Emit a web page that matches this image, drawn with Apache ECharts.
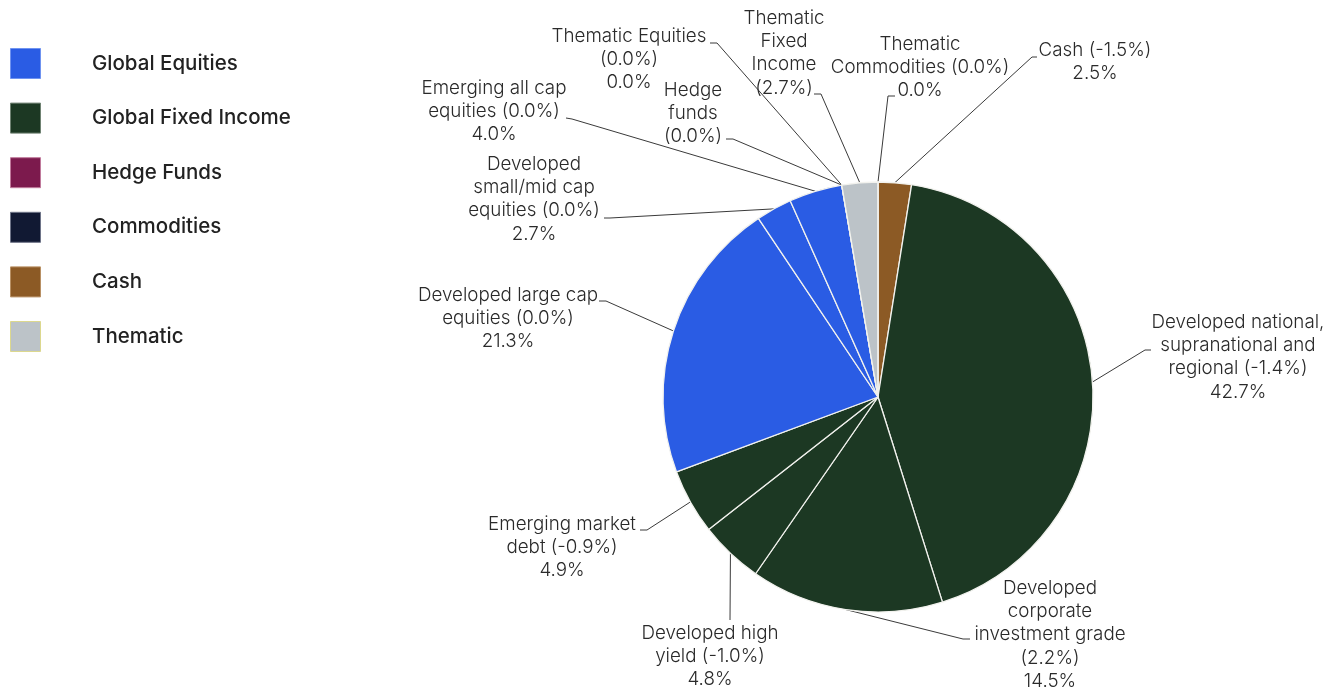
<!DOCTYPE html>
<html>
<head>
<meta charset="utf-8">
<title>Portfolio allocation</title>
<script src="https://cdn.jsdelivr.net/npm/echarts@6/dist/echarts.min.js"></script>
<style>
  html, body { margin: 0; padding: 0; background: #ffffff; }
  #chart { width: 1335px; height: 690px; }
</style>
</head>
<body>
<div id="chart"></div>
<script>
// ---- data ----
const groups = ['Global Equities', 'Global Fixed Income', 'Hedge Funds', 'Commodities', 'Cash', 'Thematic'];

const sliceNames = [
  'Cash',
  'Developed national, supranational and regional',
  'Developed corporate investment grade',
  'Developed high yield',
  'Emerging market debt',
  'Developed large cap equities',
  'Developed small/mid cap equities',
  'Emerging all cap equities',
  'Hedge funds',
  'Thematic Equities',
  'Thematic Fixed Income',
  'Thematic Commodities'
];
const sliceGroups = [
  'Cash',
  'Global Fixed Income', 'Global Fixed Income', 'Global Fixed Income', 'Global Fixed Income',
  'Global Equities', 'Global Equities', 'Global Equities',
  'Hedge Funds',
  'Thematic', 'Thematic', 'Thematic'
];
// portfolio weight, %
const weights = [2.5, 42.7, 14.5, 4.8, 4.9, 21.3, 2.7, 4.0, 0.0, 0.0, 2.7, 0.0];
// change in weight, percentage points
const changes = [-1.5, -1.4, 2.2, -1.0, -0.9, 0.0, 0.0, 0.0, 0.0, 0.0, 2.7, 0.0];

// ---- styles ----
const groupColors = {
  'Global Equities':     { fill: '#2a5ce4', edge: '#6f93f0' },
  'Global Fixed Income': { fill: '#1c3823', edge: '#6f8272' },
  'Hedge Funds':         { fill: '#7c1a4d', edge: '#c07a9c' },
  'Commodities':         { fill: '#111933', edge: '#6e7488' },
  'Cash':                { fill: '#8c5a25', edge: '#b89064' },
  'Thematic':            { fill: '#bcc3c8', edge: '#dcd88e' }
};

const FONT = 'Inter, "Noto Sans", sans-serif';
const CENTER = [878, 397];
const RADIUS = 215;
const LINE_H = 23.3;

// label placement: centre x, first line centre y, words per line,
// line elbow / end points, optional start angle on the rim
const labelSpots = {
  'Cash': { cx: 1095, y0: 50, wrap: [2], elbow: [1032, 57], end: [1037, 57] },
  'Developed national, supranational and regional': { cx: 1238, y0: 322, wrap: [2, 2, 2], rimAngle: 4, elbow: [1145, 350], end: [1151, 350] },
  'Developed corporate investment grade': { cx: 1050, y0: 588, wrap: [1, 1, 2, 1], elbow: [963, 639], end: [970, 639] },
  'Developed high yield': { cx: 710, y0: 633, wrap: [2, 2], end: [730, 620] },
  'Emerging market debt': { cx: 562, y0: 524, wrap: [2, 2], elbow: [647, 530], end: [640, 530] },
  'Developed large cap equities': { cx: 508, y0: 295, wrap: [3, 2], elbow: [606, 301], end: [599, 301] },
  'Developed small/mid cap equities': { cx: 534, y0: 164, wrap: [1, 2, 2], elbow: [610, 218], end: [604, 218] },
  'Emerging all cap equities': { cx: 494, y0: 88, wrap: [3, 2], elbow: [572, 119], end: [566, 118] },
  'Hedge funds': { cx: 693, y0: 90, wrap: [1, 1, 1], hideWeight: true, elbow: [733, 139], end: [726, 139] },
  'Thematic Equities': { cx: 629, y0: 36, wrap: [2, 1], elbow: [717, 43], end: [710, 43] },
  'Thematic Fixed Income': { cx: 784, y0: 18, wrap: [1, 1, 1, 1], hideWeight: true, elbow: [821, 94], end: [814, 94] },
  'Thematic Commodities': { cx: 920, y0: 44, wrap: [1, 2], elbow: [888, 96], end: [895, 96] }
};

function pct(v) { return v.toFixed(1) + '%'; }

function labelText(i) {
  const spot = labelSpots[sliceNames[i]];
  const words = (sliceNames[i] + ' (' + pct(changes[i]) + ')').split(' ');
  const lines = [];
  let k = 0;
  spot.wrap.forEach(n => { lines.push(words.slice(k, k + n).join(' ')); k += n; });
  if (!spot.hideWeight) lines.push(pct(weights[i]));
  return lines.join('\n');
}

const pieData = sliceNames.map((name, i) => ({
  name: name,
  value: weights[i],
  itemStyle: { color: groupColors[sliceGroups[i]].fill }
}));

// legend drawn as graphic rows
const legendTop = 48, legendStep = 54.6;
const legendGraphics = [];
groups.forEach((g, i) => {
  const y = legendTop + i * legendStep;
  legendGraphics.push({
    type: 'rect',
    shape: { x: 10.5, y: y + 0.5, width: 30, height: 30 },
    style: { fill: groupColors[g].fill, stroke: groupColors[g].edge, lineWidth: 1 },
    silent: true
  });
  legendGraphics.push({
    type: 'text',
    x: 92, y: y + 15.5,
    style: {
      text: g, fill: '#222222', font: '500 20.5px ' + FONT,
      textVerticalAlign: 'middle', verticalAlign: 'middle'
    },
    silent: true
  });
});

const chart = echarts.init(document.getElementById('chart'), null, { renderer: 'canvas' });

chart.setOption({
  animation: false,
  backgroundColor: '#ffffff',
  graphic: legendGraphics,
  series: [{
    type: 'pie',
    center: CENTER,
    radius: RADIUS,
    startAngle: 90,
    clockwise: true,
    avoidLabelOverlap: false,
    minShowLabelAngle: 0,
    data: pieData,
    itemStyle: { borderColor: '#f2f2ee', borderWidth: 1.3 },
    label: {
      show: true,
      position: 'outside',
      formatter: p => labelText(p.dataIndex),
      fontFamily: FONT,
      fontSize: 18.8,
      fontWeight: 300,
      color: '#2a2a2a',
      lineHeight: LINE_H,
      align: 'center'
    },
    labelLine: {
      show: true,
      length: 20,
      length2: 10,
      smooth: false,
      lineStyle: { color: '#3a3a3a', width: 1 }
    },
    labelLayout: function (params) {
      const spot = labelSpots[sliceNames[params.dataIndex]];
      let rim = params.labelLinePoints ? params.labelLinePoints[0] : CENTER;
      if (spot.rimAngle != null) {
        const a = spot.rimAngle * Math.PI / 180;
        rim = [CENTER[0] + RADIUS * Math.cos(a), CENTER[1] - RADIUS * Math.sin(a)];
      }
      const pts = [rim];
      if (spot.elbow) pts.push(spot.elbow);
      pts.push(spot.end);
      return {
        x: spot.cx,
        y: spot.y0 - LINE_H / 2,
        align: 'center',
        verticalAlign: 'top',
        labelLinePoints: pts
      };
    },
    emphasis: { disabled: true }
  }]
});
</script>
</body>
</html>
